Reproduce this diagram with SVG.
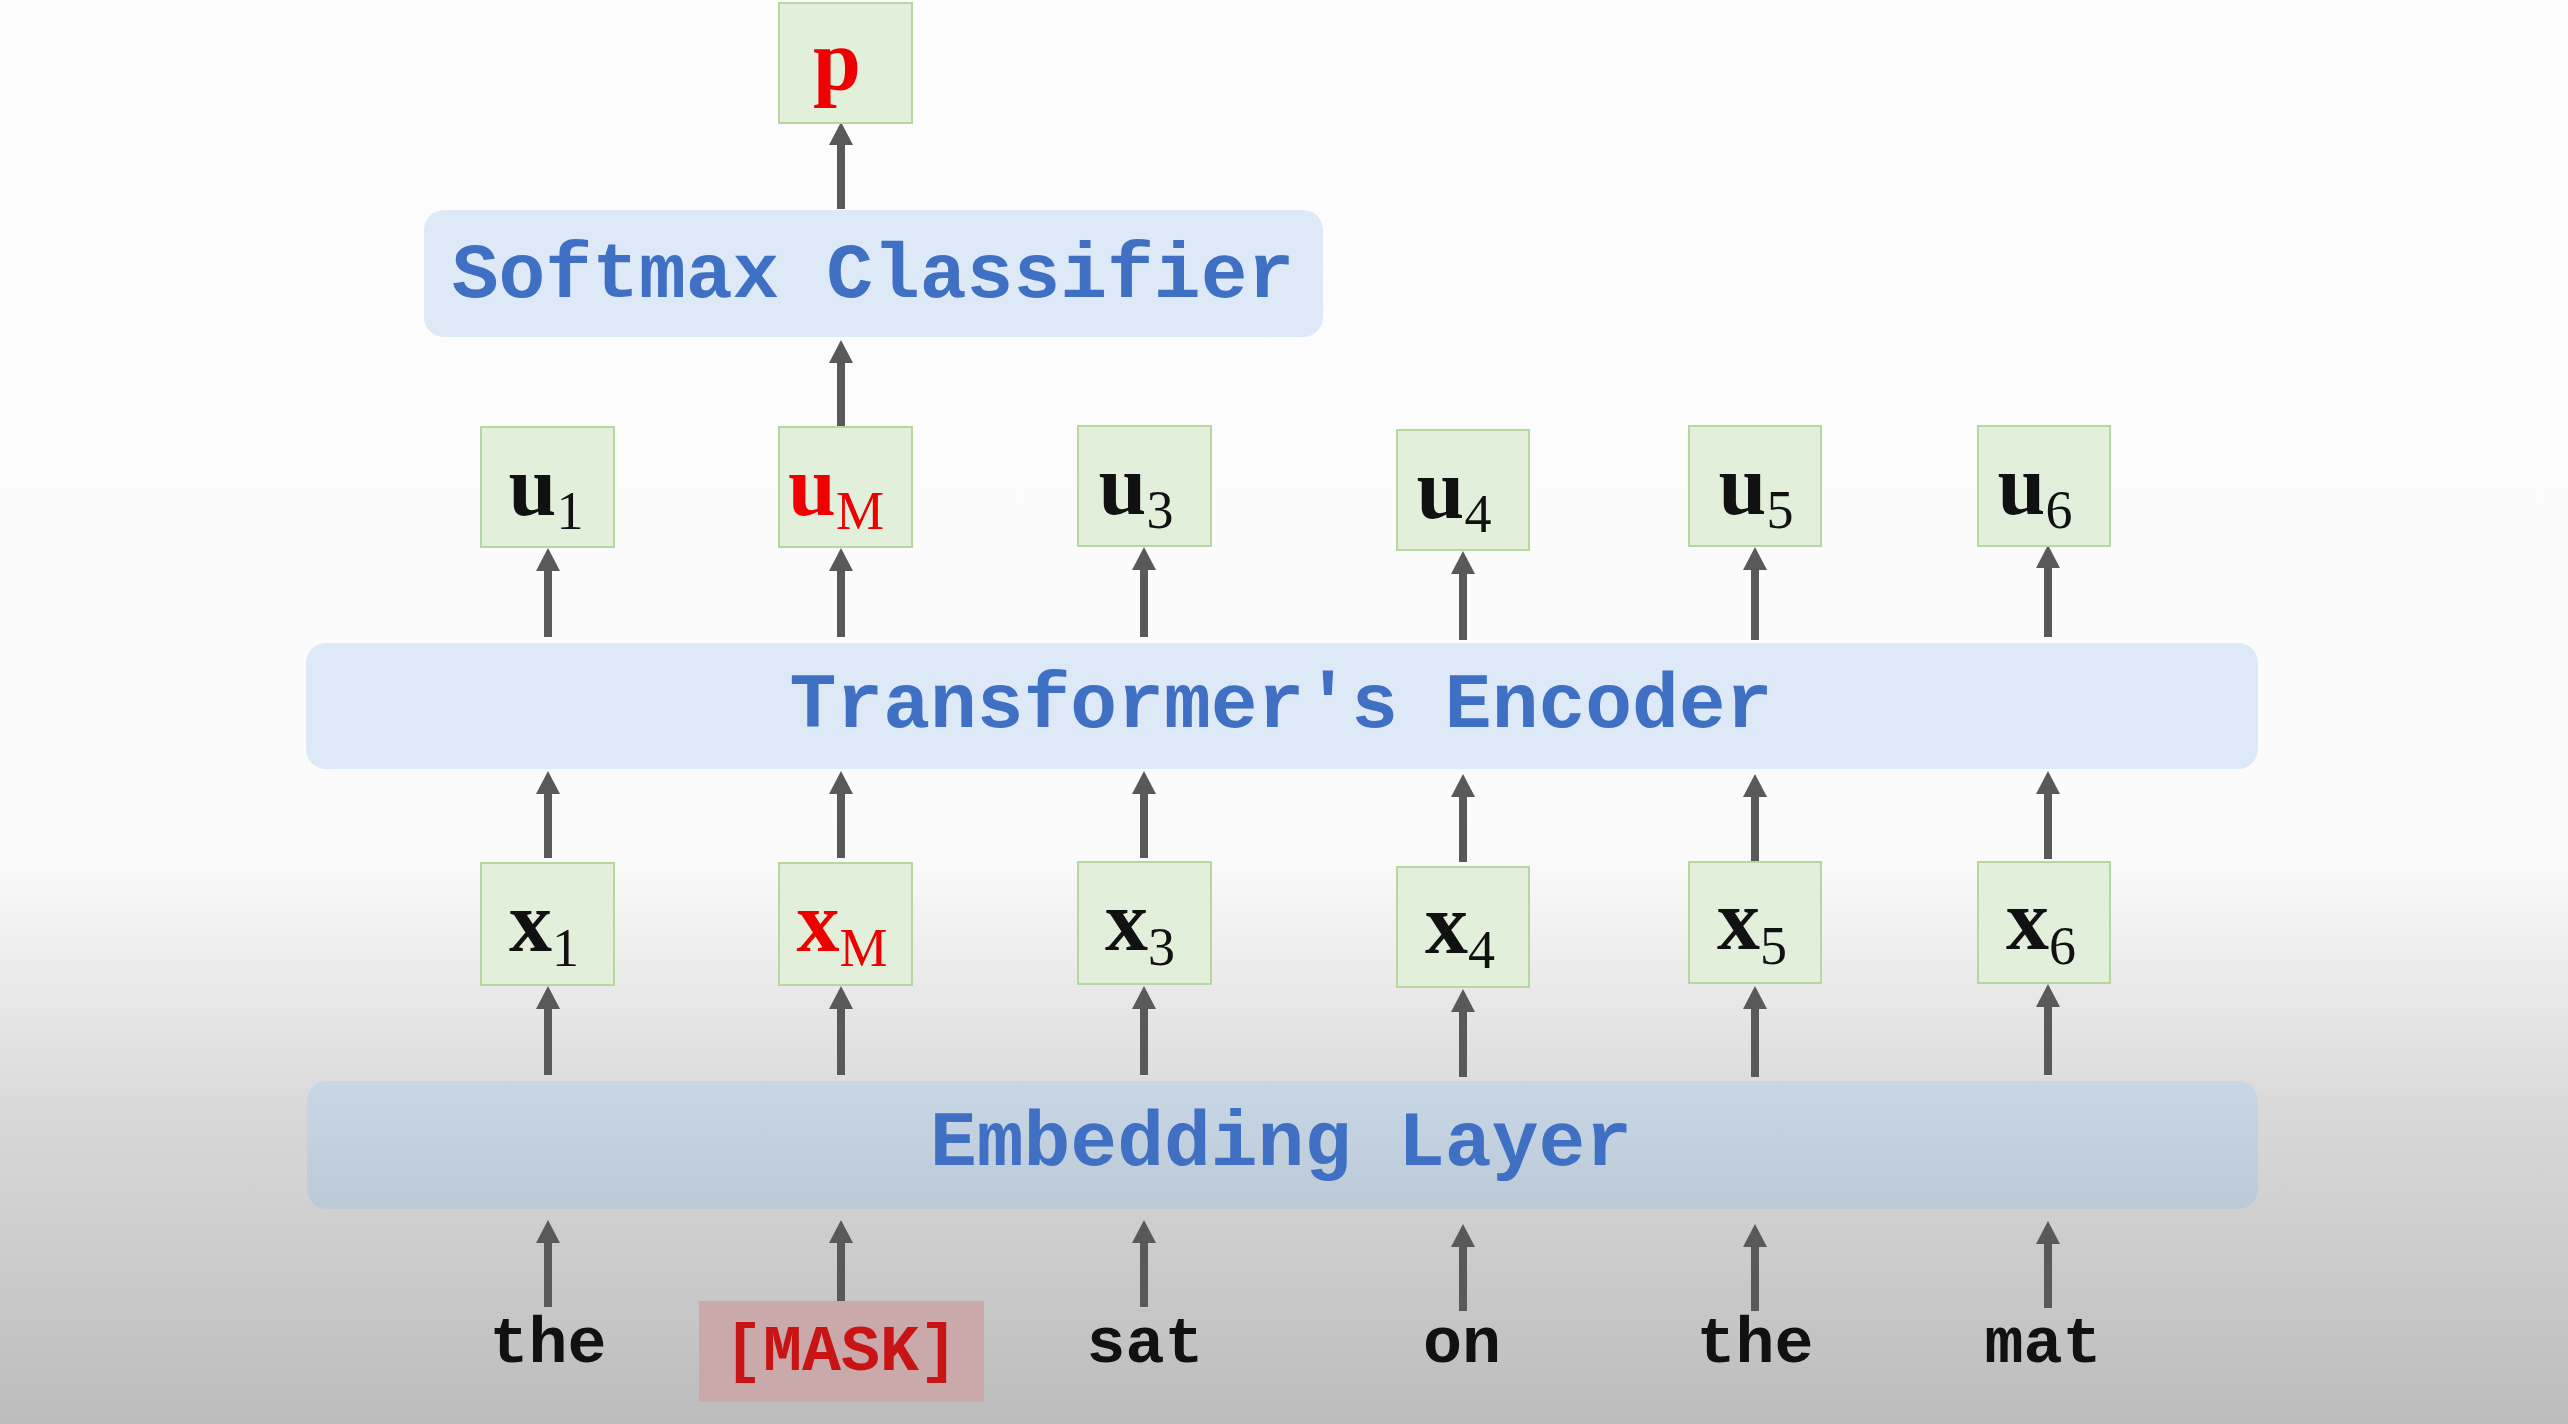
<svg xmlns="http://www.w3.org/2000/svg" width="2568" height="1424" viewBox="0 0 2568 1424">
<defs>
<linearGradient id="bg" x1="0" y1="0" x2="0" y2="1424" gradientUnits="userSpaceOnUse">
<stop offset="0" stop-color="#fdfdfd"/>
<stop offset="0.6" stop-color="#fbfbfb"/>
<stop offset="0.78" stop-color="#d9d9d9"/>
<stop offset="1" stop-color="#bcbcbc"/>
</linearGradient>
<linearGradient id="emb" x1="0" y1="1081" x2="0" y2="1209" gradientUnits="userSpaceOnUse">
<stop offset="0" stop-color="#c8d7e5"/>
<stop offset="1" stop-color="#bccad8"/>
</linearGradient>
<marker id="ah" markerUnits="userSpaceOnUse" markerWidth="24" markerHeight="24" refX="1" refY="12" orient="auto" viewBox="0 0 24 24">
<path d="M0 0 L23 12 L0 24 Z" fill="#595959"/>
</marker>
</defs>
<style>
.vec{fill:#e2efda;stroke:#b6d8a0;stroke-width:2}
.layer{fill:#dde9f6}
.lt{font-family:"Liberation Mono","DejaVu Sans Mono",monospace;font-weight:bold;font-size:78px;fill:#3f70c3;text-anchor:middle}
.wd{font-family:"Liberation Mono","DejaVu Sans Mono",monospace;font-weight:bold;font-size:65px;fill:#111;text-anchor:middle}
.mt{font-family:"Liberation Serif","DejaVu Serif",serif;font-weight:bold;font-size:86px;fill:#111;text-anchor:middle}
.sb{font-weight:normal;font-size:54px}
.red{fill:#ee0000}
.ar{stroke:#595959;stroke-width:8;fill:none;marker-end:url(#ah)}
</style>
<rect x="0" y="0" width="2568" height="1424" fill="url(#bg)"/>

<g id="connectors">
<line class="ar" x1="548" y1="1307" x2="548" y2="1242"/>
<line class="ar" x1="841" y1="1301" x2="841" y2="1242"/>
<line class="ar" x1="1144" y1="1307" x2="1144" y2="1242"/>
<line class="ar" x1="1463" y1="1311" x2="1463" y2="1246"/>
<line class="ar" x1="1755" y1="1311" x2="1755" y2="1246"/>
<line class="ar" x1="2048" y1="1308" x2="2048" y2="1243"/>

<line class="ar" x1="548" y1="1075" x2="548" y2="1008"/>
<line class="ar" x1="841" y1="1075" x2="841" y2="1008"/>
<line class="ar" x1="1144" y1="1075" x2="1144" y2="1008"/>
<line class="ar" x1="1463" y1="1077" x2="1463" y2="1011"/>
<line class="ar" x1="1755" y1="1077" x2="1755" y2="1008"/>
<line class="ar" x1="2048" y1="1075" x2="2048" y2="1006"/>

<line class="ar" x1="548" y1="858" x2="548" y2="793"/>
<line class="ar" x1="841" y1="858" x2="841" y2="793"/>
<line class="ar" x1="1144" y1="858" x2="1144" y2="793"/>
<line class="ar" x1="1463" y1="862" x2="1463" y2="796"/>
<line class="ar" x1="1755" y1="862" x2="1755" y2="796"/>
<line class="ar" x1="2048" y1="859" x2="2048" y2="793"/>

<line class="ar" x1="548" y1="637" x2="548" y2="570"/>
<line class="ar" x1="841" y1="637" x2="841" y2="570"/>
<line class="ar" x1="1144" y1="637" x2="1144" y2="569"/>
<line class="ar" x1="1463" y1="640" x2="1463" y2="573"/>
<line class="ar" x1="1755" y1="640" x2="1755" y2="569"/>
<line class="ar" x1="2048" y1="637" x2="2048" y2="567"/>

<line class="ar" x1="841" y1="427" x2="841" y2="362"/>
<line class="ar" x1="841" y1="209" x2="841" y2="144"/>
</g>

<g id="p-node">
<rect class="vec" x="779" y="3" width="133" height="120"/>
<text class="mt red" x="837" y="89">p</text>
</g>

<g id="softmax">
<rect class="layer" x="424" y="210" width="899" height="127" rx="20"/>
<text class="lt" x="873" y="297">Softmax Classifier</text>
</g>

<g id="u1"><rect class="vec" x="481" y="427" width="133" height="120"/><text class="mt" x="546" y="515">u<tspan class="sb" dy="14">1</tspan></text></g>
<g id="uM"><rect class="vec" x="779" y="427" width="133" height="120"/><text class="mt red" x="836" y="515">u<tspan class="sb" dy="14">M</tspan></text></g>
<g id="u3"><rect class="vec" x="1078" y="426" width="133" height="120"/><text class="mt" x="1136" y="514">u<tspan class="sb" dy="14">3</tspan></text></g>
<g id="u4"><rect class="vec" x="1397" y="430" width="132" height="120"/><text class="mt" x="1454" y="518">u<tspan class="sb" dy="14">4</tspan></text></g>
<g id="u5"><rect class="vec" x="1689" y="426" width="132" height="120"/><text class="mt" x="1756" y="514">u<tspan class="sb" dy="14">5</tspan></text></g>
<g id="u6"><rect class="vec" x="1978" y="426" width="132" height="120"/><text class="mt" x="2035" y="514">u<tspan class="sb" dy="14">6</tspan></text></g>

<g id="encoder">
<rect class="layer" x="306" y="643" width="1952" height="126" rx="20"/>
<text class="lt" x="1281" y="727">Transformer's Encoder</text>
</g>

<g id="x1"><rect class="vec" x="481" y="863" width="133" height="122"/><text class="mt" x="544" y="951">x<tspan class="sb" dy="15">1</tspan></text></g>
<g id="xM"><rect class="vec" x="779" y="863" width="133" height="122"/><text class="mt red" x="842" y="951">x<tspan class="sb" dy="15">M</tspan></text></g>
<g id="x3"><rect class="vec" x="1078" y="862" width="133" height="122"/><text class="mt" x="1140" y="950">x<tspan class="sb" dy="15">3</tspan></text></g>
<g id="x4"><rect class="vec" x="1397" y="867" width="132" height="120"/><text class="mt" x="1460" y="953">x<tspan class="sb" dy="15">4</tspan></text></g>
<g id="x5"><rect class="vec" x="1689" y="862" width="132" height="121"/><text class="mt" x="1752" y="949">x<tspan class="sb" dy="15">5</tspan></text></g>
<g id="x6"><rect class="vec" x="1978" y="862" width="132" height="121"/><text class="mt" x="2041" y="949">x<tspan class="sb" dy="15">6</tspan></text></g>

<g id="embedding">
<rect x="307" y="1081" width="1951" height="128" rx="20" fill="url(#emb)"/>
<text class="lt" x="1281" y="1165">Embedding Layer</text>
</g>

<g id="w1"><text class="wd" x="548" y="1362">the</text></g>
<g id="w2">
<rect x="699" y="1301" width="285" height="101" fill="#c9a9aa"/>
<text class="wd" x="841" y="1370" style="fill:#c81414">[MASK]</text>
</g>
<g id="w3"><text class="wd" x="1145" y="1362">sat</text></g>
<g id="w4"><text class="wd" x="1462" y="1362">on</text></g>
<g id="w5"><text class="wd" x="1755" y="1362">the</text></g>
<g id="w6"><text class="wd" x="2043" y="1362">mat</text></g>
</svg>
